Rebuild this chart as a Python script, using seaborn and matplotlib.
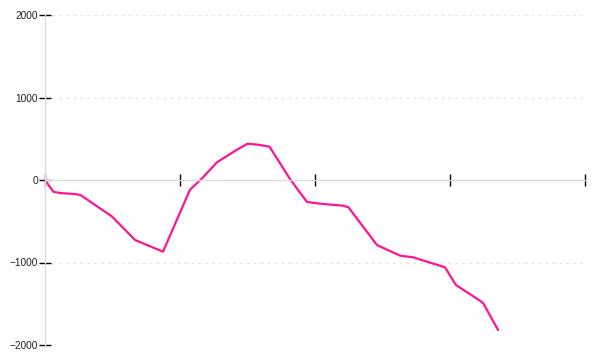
import matplotlib
matplotlib.use("Agg")
import matplotlib.pyplot as plt
import seaborn as sns
import pandas as pd

# Data (x in tick units, y values)
x_vals = [0.0, 0.062, 0.111, 0.222, 0.263, 0.496, 0.667, 0.874, 1.074, 1.163,
          1.274, 1.422, 1.5, 1.578, 1.663, 1.815, 1.941, 2.059, 2.207, 2.248,
          2.459, 2.63, 2.726, 2.963, 3.044, 3.222, 3.247, 3.356]
y_vals = [0, -142, -158, -170, -182, -442, -727, -869, -118, 20,
          215, 367, 440, 428, 404, 12, -267, -291, -311, -331,
          -788, -917, -937, -1058, -1273, -1463, -1495, -1818]
y_ticks = [-2000, -1000, 0, 1000, 2000]
x_ticks = [0, 1, 2, 3, 4]

sns.set_style("white")
plt.rcParams['font.family'] = ['Liberation Sans', 'DejaVu Sans']

fig = plt.figure(figsize=(6, 3.6), dpi=100)
ax = fig.add_axes([45/600, 1-345/360, 540/600, 330/360])

df = pd.DataFrame({"x": x_vals, "y": y_vals})
sns.lineplot(data=df, x="x", y="y", ax=ax, color="#ff1493", linewidth=1.6,
             sort=False, estimator=None)

ax.set_xlim(0, 4)
ax.set_ylim(-2000, 2000)
ax.set_xlabel("")
ax.set_ylabel("")

ax.set_yticks(y_ticks)
ax.set_yticklabels([("\u2212" + str(abs(v))) if v < 0 else str(v) for v in y_ticks],
                   fontsize=7.3, color="#222222")
ax.set_xticks(x_ticks)
ax.set_xticklabels([])

for v in y_ticks:
    if v != 0:
        ax.axhline(v, color="#e4e4e4", linewidth=1, linestyle=(0, (2, 3)), zorder=0)

ax.spines['bottom'].set_position(('data', 0))
ax.spines['bottom'].set_color("#dddddd")
ax.spines['bottom'].set_linewidth(1)
ax.spines['left'].set_color("#dddddd")
ax.spines['left'].set_linewidth(1)
ax.spines['top'].set_visible(False)
ax.spines['right'].set_visible(False)

ax.tick_params(axis='y', direction='inout', length=8, width=1, color='black', pad=1, left=True)
ax.tick_params(axis='x', direction='inout', length=9, width=1, color='black', bottom=True)

fig.savefig("out.png", dpi=100)
